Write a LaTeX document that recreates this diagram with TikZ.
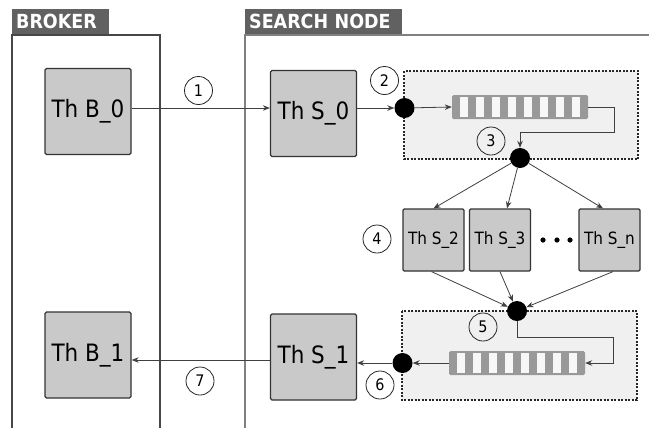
\documentclass[tikz,border=0pt]{standalone}
\usepackage{fontspec}
\setmainfont{DejaVu Sans Condensed}
\usetikzlibrary{arrows.meta,calc}
\begin{document}
\begin{tikzpicture}[x=1bp,y=-1bp,
  thbig/.style={draw=black!80, line width=1.3bp, fill=black!21, rounded corners=1.5bp, inner sep=0pt,
    minimum width=86bp, minimum height=86bp, font=\fontsize{24}{24}\selectfont},
  thsmall/.style={draw=black!80, line width=1.2bp, fill=black!21, rounded corners=1.2bp, inner sep=0pt,
    minimum width=61bp, minimum height=62bp, font=\fontsize{17}{17}\selectfont},
  hdr/.style={fill=black!62, text=white, font=\fontsize{19.5}{19.5}\selectfont\bfseries,
    anchor=north west, minimum height=25bp, inner xsep=4bp, inner ysep=0pt, align=left},
  frameA/.style={draw=black!72, line width=1.2bp},
  frameB/.style={draw=black!50, line width=1.2bp},
  dot/.style={circle, fill=black, inner sep=0pt, minimum size=20bp},
  num/.style={circle, draw=black!85, line width=0.8bp, inner sep=0pt, minimum size=28bp,
    font=\fontsize{16}{16}\selectfont},
  arr/.style={draw=black!75, line width=0.8bp, -{Stealth[length=7bp,width=5.5bp]}},
  dashbox/.style={draw=black!85, fill=black!6, line width=1.3bp, dash pattern=on 2bp off 1.5bp},
  queue/.style={fill=black!40, rounded corners=1.5bp, inner sep=0pt, minimum width=136bp, minimum height=24bp},
]
\useasboundingbox (0,0) rectangle (649,428);
\fill[white] (0,0) rectangle (649,428);

% frames
\draw[frameA] (12,428) -- (12,35) -- (160,35) -- (160,428);
\draw[frameB] (245,428) -- (245,35) -- (649,35);
\node[hdr, text width=89bp] (hbroker) at (12,9) {BROKER};
\node[hdr, text width=149bp] (hsearch) at (245,9) {SEARCH NODE};

% dashed boxes
\draw[dashbox] (404,71) rectangle (638,159);
\draw[dashbox] (402,311) rectangle (637,400);

% queues
\node[queue] (q1) at (520,107) {};
\node[queue] (q2) at (517,363) {};
\foreach \q in {q1,q2}{
  \foreach \i in {1,3,...,15}{
    \fill[white!97!black] ($(\q.north west)+(\i*8,2)$) rectangle ($(\q.north west)+(\i*8+8,22)$);
  }
}

% thread boxes
\node[thbig] (b0) at (88,111.5) {Th B\_0};
\node[thbig] (s0) at (313.5,113.5) {Th S\_0};
\node[thbig] (b1) at (88,355) {Th B\_1};
\node[thbig] (s1) at (313.5,357) {Th S\_1};
\node[thsmall] (s2) at (433.5,240) {Th S\_2};
\node[thsmall] (s3) at (500,240) {Th S\_3};
\node[thsmall] (sn) at (609.5,240) {Th S\_n};
\foreach \x in {543,557,570} \fill (\x,240) circle (2.6bp);

% dots
\node[dot] (d2) at (404.5,108) {};
\node[dot] (d3) at (520,158) {};
\node[dot] (d5) at (517,311) {};
\node[dot] (d6) at (402.5,363) {};

% connectors
\draw[arr] (b0.east |- 0,108) -- (s0.west |- 0,108);
\draw[arr] (s0.east |- d2) -- (d2);
\draw[arr] (d2) -- (q1.west);
\draw[arr] (q1.east) -- ++(26,0) |- ($(d3)+(0,-26)$) -- (d3);
\draw[arr] (d3) -- (s2.north);
\draw[arr] (d3) -- ([xshift=7bp]s3.north);
\draw[arr] (d3) -- ([xshift=-6.5bp]sn.north);
\draw[arr] ([xshift=-2bp]s2.south) -- (d5);
\draw[arr] (s3.south) -- (d5);
\draw[arr] ([xshift=3.5bp]sn.south) -- (d5);
\draw[arr] (d5) |- ($(q2.east)+(28,-26)$) |- (q2.east);
\draw[arr] (q2.west) -- (d6);
\draw[arr] (d6) -- (s1.east |- d6);
\draw[arr] (s1.west |- 0,360) -- (b1.east |- 0,360);

% step labels
\node[num] (n1) at (198.5,90.5) {1};
\node[num] (n2) at (384.5,80.5) {2};
\node[num] (n3) at (491,141) {3};
\node[num] (n4) at (377,239) {4};
\node[num] (n5) at (483,327) {5};
\node[num] (n6) at (380,385) {6};
\node[num] (n7) at (200,381) {7};
\end{tikzpicture}
\end{document}
